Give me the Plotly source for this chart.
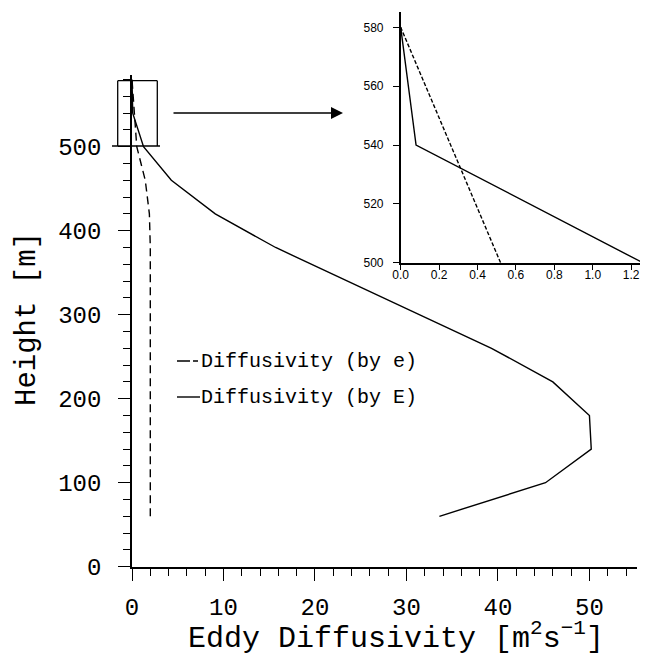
import plotly.graph_objects as go

# profile data
heights = [60, 100, 140, 180, 220, 260, 300, 340, 380, 420, 460, 500, 540, 580]
k_by_e = [2.0, 2.0, 2.0, 2.0, 2.0, 2.0, 2.0, 2.0, 2.0, 1.9, 1.45, 0.52, 0.26, 0.0]
k_by_E = [33.6, 45.2, 50.2, 50.0, 46.0, 39.3, 31.4, 23.6, 15.7, 9.1, 4.3, 1.26, 0.08, 0.0]

legend_labels = ["Diffusivity (by e)", "Diffusivity (by E)"]

# page is 648x657, the plot div sits 8px in from the top-left corner
OFF = 8
W, H = 648 - OFF, 657 - OFF
MONO = "Liberation Mono"
SANS = "Liberation Sans"


def px(x):
    # page pixel -> paper fraction
    return (x - OFF) / W


def py(y):
    return 1 - (y - OFF) / H


fig = go.Figure()

# main panel
fig.add_trace(go.Scatter(x=k_by_e, y=heights, mode="lines",
                         line=dict(color="black", width=1.4, dash="8px,5px"),
                         xaxis="x", yaxis="y", showlegend=False))
fig.add_trace(go.Scatter(x=k_by_E, y=heights, mode="lines",
                         line=dict(color="black", width=1.4),
                         xaxis="x", yaxis="y", showlegend=False))

# zoomed inset (top of the profile)
top = slice(-3, None)
fig.add_trace(go.Scatter(x=k_by_e[top], y=heights[top], mode="lines",
                         line=dict(color="black", width=1.4, dash="4px,2px"),
                         xaxis="x2", yaxis="y2", showlegend=False))
fig.add_trace(go.Scatter(x=k_by_E[top], y=heights[top], mode="lines",
                         line=dict(color="black", width=1.4),
                         xaxis="x2", yaxis="y2", showlegend=False))

main_axis = dict(showgrid=False, zeroline=False, showline=True, linecolor="black",
                 linewidth=1.6, ticks="outside", ticklen=12, tickwidth=1.4,
                 tickcolor="black", automargin=False,
                 tickfont=dict(family=MONO, size=24, color="black"))
inset_axis = dict(showgrid=False, zeroline=False, showline=True, linecolor="black",
                  linewidth=1.5, ticks="outside", ticklen=6, tickwidth=1.3,
                  tickcolor="black", automargin=False,
                  tickfont=dict(family=SANS, size=12, color="black"))

fig.update_layout(
    width=W, height=H, autosize=False,
    margin=dict(l=0, r=0, t=0, b=0, pad=0),
    paper_bgcolor="white", plot_bgcolor="rgba(0,0,0,0)",
    xaxis=dict(main_axis, domain=[px(132), px(637)], range=[0, 55.2],
               tick0=0, dtick=10, anchor="y", ticklabelstandoff=6,
               minor=dict(dtick=2, ticks="outside", ticklen=7, tickwidth=1.2,
                          tickcolor="black", showgrid=False)),
    yaxis=dict(main_axis, domain=[py(566.7), py(75.3)], range=[0, 585],
               tick0=0, dtick=100, anchor="x", ticklabelstandoff=12,
               minor=dict(dtick=20, ticks="outside", ticklen=7, tickwidth=1.2,
                          tickcolor="black", showgrid=False)),
    xaxis2=dict(inset_axis, domain=[px(400.7), px(642.7)], range=[0, 1.26],
                tick0=0, dtick=0.2, tickformat=".1f", anchor="y2",
                ticklabelstandoff=-6),
    yaxis2=dict(inset_axis, domain=[py(262.7), py(11.7)], range=[500, 585.3],
                tick0=500, dtick=20, anchor="x2", ticklabelstandoff=7),
)

# box marking the zoomed region and the arrow to the inset
box = dict(type="line", xref="paper", yref="paper", line=dict(color="black", width=1.3))
fig.add_shape(box, x0=px(117.7), x1=px(157.3), y0=py(80.7), y1=py(80.7))
fig.add_shape(box, x0=px(117.7), x1=px(117.7), y0=py(80.7), y1=py(146))
fig.add_shape(box, x0=px(157.3), x1=px(157.3), y0=py(80.7), y1=py(146))
fig.add_shape(box, x0=px(112), x1=px(160), y0=py(146), y1=py(146))
fig.add_annotation(x=px(343), y=py(113), xref="paper", yref="paper",
                   ax=-171, ay=0, text="", showarrow=True, arrowhead=2,
                   arrowsize=1.6, arrowwidth=1.5, arrowcolor="black")

# legend drawn by hand
leg_rows = [361, 397]
fig.add_shape(type="line", xref="paper", yref="paper", x0=px(177), x1=px(198),
              y0=py(leg_rows[0]), y1=py(leg_rows[0]),
              line=dict(color="black", width=1.4, dash="13px,3px"))
fig.add_shape(type="line", xref="paper", yref="paper", x0=px(177), x1=px(200),
              y0=py(leg_rows[1]), y1=py(leg_rows[1]),
              line=dict(color="black", width=1.4))
for label, row in zip(legend_labels, leg_rows):
    fig.add_annotation(x=px(199), y=py(row), xref="paper", yref="paper",
                       text=label, showarrow=False, xanchor="left", yanchor="middle",
                       font=dict(family=MONO, size=20, color="black"))

# axis titles
fig.add_annotation(x=px(28), y=py(319), xref="paper", yref="paper",
                   text="Height [m]", textangle=-90, showarrow=False,
                   xanchor="center", yanchor="middle",
                   font=dict(family=MONO, size=29, color="black"))
fig.add_annotation(x=px(396), y=py(636), xref="paper", yref="paper",
                   text="Eddy Diffusivity [m<sup>2</sup>s<sup>\u22121</sup>]",
                   showarrow=False, xanchor="center", yanchor="middle",
                   font=dict(family=MONO, size=30, color="black"))

fig.write_html("out.html")
